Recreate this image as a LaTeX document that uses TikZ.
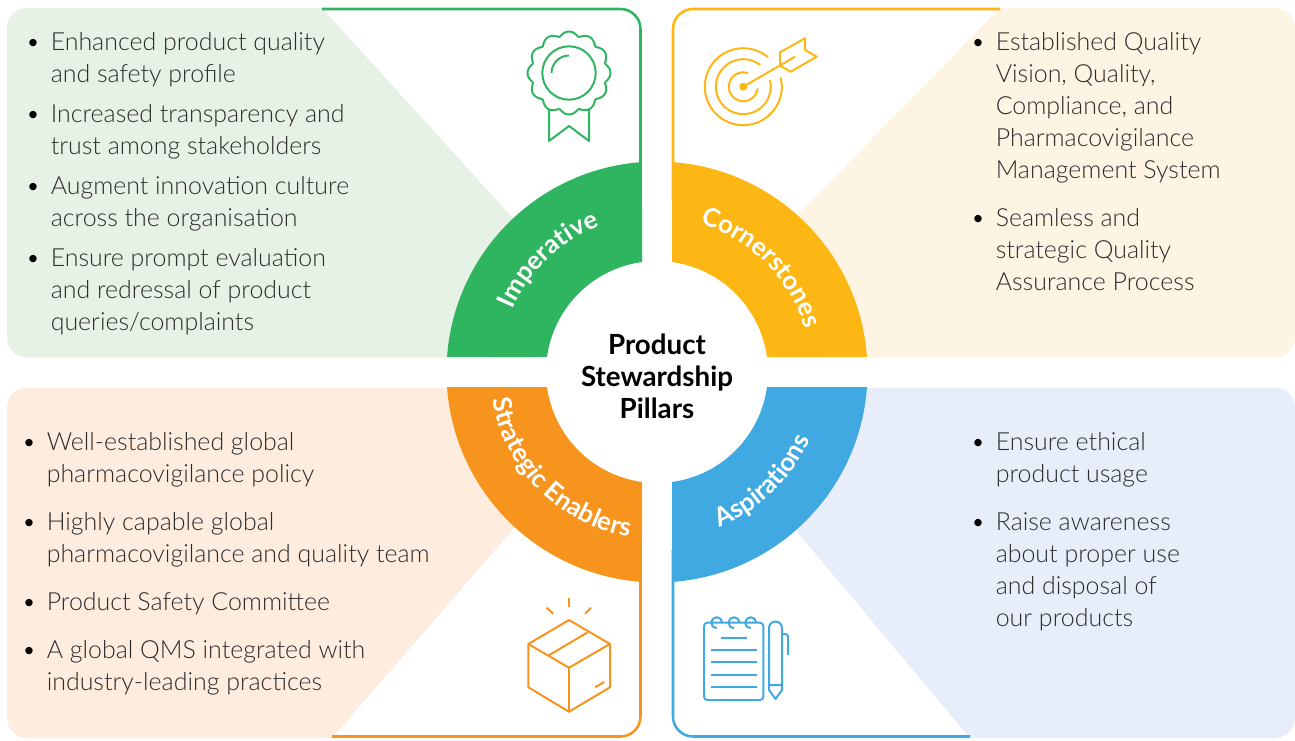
\documentclass[tikz,border=0pt]{standalone}
\usepackage{fontspec}
\setmainfont{Lato}[UprightFont=* Light,BoldFont=* Bold]
\usetikzlibrary{calc,decorations.text}
\definecolor{impgreen}{HTML}{2FB45F}
\definecolor{corneryellow}{HTML}{FDB714}
\definecolor{enableorange}{HTML}{F7941E}
\definecolor{aspireblue}{HTML}{41A9E1}
\definecolor{imppale}{HTML}{E7F2E7}
\definecolor{cornerpale}{HTML}{FEF4E4}
\definecolor{enablepale}{HTML}{FEEDDF}
\definecolor{aspirepale}{HTML}{E7EEFA}
\definecolor{bodytext}{HTML}{2C2C2C}
\newcommand{\ringfont}{\fontsize{19.3}{24}\selectfont\bfseries\color{white}}
\begin{document}
\begin{tikzpicture}
    [
    x=0.75pt,y=-0.75pt,
    item/.style={anchor=base west,inner sep=0pt,align=left,text=bodytext,font=\fontsize{18.7}{24}\selectfont},
    dot/.style={anchor=base,inner sep=0pt,text=black,font=\fontsize{18.7}{24}\selectfont},
    title/.style={inner sep=0pt,align=center,text=black,font=\fontsize{20.8}{24}\selectfont\bfseries},
    rim/.style={line width=1.9pt,rounded corners=15pt},
    icon/.style={line width=1.5pt,line join=round}
    ]
    \useasboundingbox (0,0) rectangle (1295,740);
    \coordinate (c) at (657,372);
    % pale panels
    \fill [imppale] (322,8) [rounded corners=15pt] -- (7,8) -- (7,357.5) [sharp corners] -- (530,357.5) -- (530,237) -- cycle;
    \fill [cornerpale] (1000,8) [rounded corners=15pt] -- (1295,8) -- (1295,357.5) [sharp corners] -- (777,357.5) -- (777,236) -- cycle;
    \fill [enablepale] (332,738) [rounded corners=15pt] -- (7,738) -- (7,387.5) [sharp corners] -- (530,387.5) -- (530,510) -- cycle;
    \fill [aspirepale] (970,738) [rounded corners=15pt] -- (1295,738) -- (1295,387.5) [sharp corners] -- (777,387.5) -- (777,508) -- cycle;
    % outlines
    \draw [rim,impgreen] (322,9) -- (640.5,9) -- (640.5,200);
    \draw [rim,corneryellow] (1000,9) -- (673,9) -- (673,200);
    \draw [rim,enableorange] (332,736.5) -- (640.5,736.5) -- (640.5,550);
    \draw [rim,aspireblue] (970,736.5) -- (673,736.5) -- (673,550);
    % ring
    \fill [impgreen] ($(c)+(184.09:210.5)$) arc (184.09:265.91:210.5) -- ($(c)+(262.23:111)$) arc (262.23:187.77:111) -- cycle;
    \fill [corneryellow] ($(c)+(274.09:210.5)$) arc (274.09:355.91:210.5) -- ($(c)+(352.23:111)$) arc (352.23:277.77:111) -- cycle;
    \fill [aspireblue] ($(c)+(4.09:210.5)$) arc (4.09:85.91:210.5) -- ($(c)+(82.23:111)$) arc (82.23:7.77:111) -- cycle;
    \fill [enableorange] ($(c)+(94.09:210.5)$) arc (94.09:175.91:210.5) -- ($(c)+(172.23:111)$) arc (172.23:97.77:111) -- cycle;
    % ring labels
    \path [decorate,decoration={text along path,text align=center,text={|\ringfont|Imperative}}]
      ($(c)+(187:157)$) arc (187:265:157);
    \path [decorate,decoration={text along path,text align=center,text={|\ringfont|Cornerstones}}]
      ($(c)+(267:154)$) arc (267:363:154);
    \path [decorate,decoration={text along path,text align=center,text={|\ringfont|Strategic Enablers}}]
      ($(c)+(180:167)$) arc (180:90:167);
    \path [decorate,decoration={text along path,text align=center,text={|\ringfont|Aspirations}}]
      ($(c)+(91:167)$) arc (91:1:167);
    \node (centre) at (657,376) [title] {Product\\Stewardship\\Pillars};
    % bullets
    \foreach \y in {50,122,194,266}
      \node at (33,\y) [dot] {•};
    \foreach \y in {50,226}
      \node at (978,\y) [dot] {•};
    \foreach \y in {450,530,610,658}
      \node at (29,\y) [dot] {•};
    \foreach \y in {450,530}
      \node at (978,\y) [dot] {•};
    % texts
    \node (imp1) at (50.5,82) [item] {Enhanced product quality\\and safety profile};
    \node (imp2) at (50.5,154) [item] {Increased transparency and\\trust among stakeholders};
    \node (imp3) at (50.5,226) [item] {Augment innovation culture\\across the organisation};
    \node (imp4) at (50.5,330) [item] {Ensure prompt evaluation\\and redressal of product\\queries/complaints};
    \node (cor1) at (995.5,178) [item] {Established Quality\\Vision, Quality,\\Compliance, and\\Pharmacovigilance\\Management System};
    \node (cor2) at (995.5,290) [item] {Seamless and\\strategic Quality\\Assurance Process};
    \node (ena1) at (46.5,482) [item] {Well-established global\\pharmacovigilance policy};
    \node (ena2) at (46.5,562) [item] {Highly capable global\\pharmacovigilance and quality team};
    \node (ena3) at (46.5,610) [item] {Product Safety Committee};
    \node (ena4) at (46.5,690) [item] {A global QMS integrated with\\industry-leading practices};
    \node (asp1) at (995.5,482) [item] {Ensure ethical\\product usage};
    \node (asp2) at (995.5,626) [item] {Raise awareness\\about proper use\\and disposal of\\our products};
    % medal
    \begin{scope}[icon,impgreen]
      \draw (569,73) circle (26.7);
      \draw (551.5,73) arc (180:270:17.5);
      \draw [shift={(569,73)}] plot [domain=0:360,samples=181] (\x:{37+4.5*abs(cos(6*\x))}) -- cycle;
      \draw (549,110) -- (549,141) -- (569,126) -- (589,141) -- (589,110);
    \end{scope}
    % target
    \begin{scope}[icon,corneryellow]
      \draw (743.3,86.7) ++(-14:38.5) arc (-14:310:38.5);
      \draw (743.3,86.7) ++(-14:27.5) arc (-14:308:27.5);
      \draw (743.3,86.7) ++(7:14.5) arc (7:290:14.5);
      \fill (743.3,86.7) circle (4);
      \draw (743.3,86.7) -- (795,56.7);
      \draw (780,52.3) -- (805,38.3) -- (805,50) -- (816.7,56.7) -- (790.7,71.7) -- (780,65.7) -- cycle;
    \end{scope}
    % box
    \begin{scope}[icon,enableorange]
      \draw (569,620) -- (610,644) -- (610,687.3) -- (569,711.7) -- (528.3,687.3) -- (528.3,644) -- cycle;
      \draw (528.3,644) -- (569,667.7) -- (610,644);
      \draw (569,667.7) -- (569,711.7);
      \draw (549.3,655) -- (587.7,632.3);
      \draw (595,687.3) -- (604.3,682);
      \draw (569,598.3) -- (569,606.7);
      \draw (546.7,607.7) -- (553.3,613.7);
      \draw (591,607.7) -- (585,613.7);
    \end{scope}
    % notepad
    \begin{scope}[icon,aspireblue]
      \draw [rounded corners=2.5pt] (704,622.7) rectangle (763.3,700);
      \foreach \x in {716.7,734,750.7}
        \draw (\x,622.7) ++(0:5.5) arc (0:-270:5.5);
      \draw (720.7,637.7) -- (746.7,637.7);
      \foreach \y in {650,662.3,674.7,687}
        \draw (710.7,\y) -- (756.7,\y);
      \draw (769,685) -- (769,628) arc (180:360:6.5) -- (782,685) -- cycle;
      \draw (769,685) -- (769,690) -- (775.5,699) -- (782,690) -- (782,685);
      \draw [rounded corners=2pt] (782,634) -- (788,634) -- (788,655);
    \end{scope}
  \end{tikzpicture}
\end{document}
